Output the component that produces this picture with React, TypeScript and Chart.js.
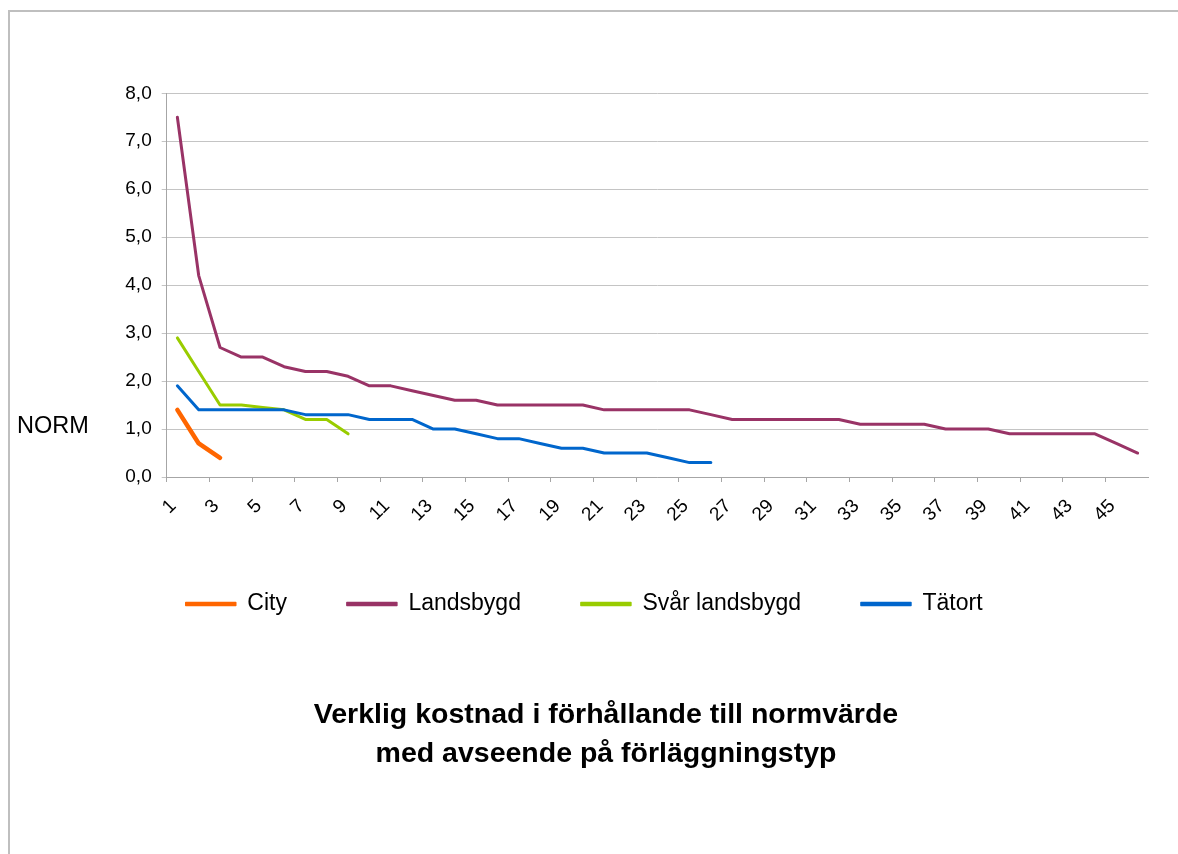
import React, { useEffect, useRef } from 'react';
import { Chart, registerables } from 'chart.js';

Chart.register(...registerables);

// ---- data ----
const categories = [
  '1', '2', '3', '4', '5', '6', '7', '8', '9', '10',
  '11', '12', '13', '14', '15', '16', '17', '18', '19', '20',
  '21', '22', '23', '24', '25', '26', '27', '28', '29', '30',
  '31', '32', '33', '34', '35', '36', '37', '38', '39', '40',
  '41', '42', '43', '44', '45', '46',
];

const seriesNames = ['City', 'Landsbygd', 'Svår landsbygd', 'Tätort'];

const city = [1.4, 0.7, 0.4];

const landsbygd = [
  7.5, 4.2, 2.7, 2.5, 2.5, 2.3, 2.2, 2.2, 2.1, 1.9,
  1.9, 1.8, 1.7, 1.6, 1.6, 1.5, 1.5, 1.5, 1.5, 1.5,
  1.4, 1.4, 1.4, 1.4, 1.4, 1.3, 1.2, 1.2, 1.2, 1.2,
  1.2, 1.2, 1.1, 1.1, 1.1, 1.1, 1.0, 1.0, 1.0, 0.9,
  0.9, 0.9, 0.9, 0.9, 0.7, 0.5,
];

const svarLandsbygd = [2.9, 2.2, 1.5, 1.5, 1.45, 1.4, 1.2, 1.2, 0.9];

const tatort = [
  1.9, 1.4, 1.4, 1.4, 1.4, 1.4, 1.3, 1.3, 1.3, 1.2,
  1.2, 1.2, 1.0, 1.0, 0.9, 0.8, 0.8, 0.7, 0.6, 0.6,
  0.5, 0.5, 0.5, 0.4, 0.3, 0.3,
];

const yMin = 0;
const yMax = 8;
const yStep = 1;

const yAxisTitle = 'NORM';
const chartTitle = ['Verklig kostnad i förhållande till normvärde', 'med avseende på förläggningstyp'];

const colors = ['#FF6600', '#993366', '#99CC00', '#0066CC'];
const widths = [4.5, 3, 3, 3];

const FONT = "'Liberation Sans', Arial, Helvetica, sans-serif";

export default function App() {
  const canvasRef = useRef<HTMLCanvasElement | null>(null);

  useEffect(() => {
    const canvas = canvasRef.current;
    if (!canvas) return;
    Chart.defaults.font.family = FONT;
    Chart.defaults.color = '#000';

    const values = [city, landsbygd, svarLandsbygd, tatort];
    const chart = new Chart(canvas, {
      type: 'line',
      data: {
        labels: categories,
        datasets: values.map((d, i) => ({
          label: seriesNames[i],
          data: d,
          borderColor: colors[i],
          backgroundColor: colors[i],
          borderWidth: widths[i],
          pointRadius: 0,
          pointHoverRadius: 0,
          tension: 0,
          fill: false,
          borderCapStyle: 'round' as const,
          borderJoinStyle: 'round' as const,
          order: i === 3 ? 0 : 1,
        })),
      },
      options: {
        animation: false,
        responsive: false,
        devicePixelRatio: 1,
        layout: {
          padding: { left: 20, right: 29.7, top: 93.3, bottom: 228.5 },
        },
        plugins: {
          title: { display: false },
          tooltip: { enabled: false },
          legend: {
            position: 'bottom',
            labels: {
              boxWidth: 50,
              boxHeight: 3,
              padding: 60,
              color: '#000',
              font: { size: 23, family: FONT },
              sort: (a: any, b: any) => a.datasetIndex - b.datasetIndex,
              generateLabels: (c: any) =>
                (Chart.defaults.plugins.legend.labels as any)
                  .generateLabels(c)
                  .map((l: any) => ({ ...l, lineWidth: 1.5 })),
            },
          },
        },
        scales: {
          x: {
            type: 'category',
            offset: true,
            grid: {
              offset: true,
              drawOnChartArea: false,
              drawTicks: true,
              tickLength: 5,
              color: (ctx: any) => (ctx.index % 2 === 0 ? '#a6a6a6' : 'rgba(0,0,0,0)'),
            },
            border: { color: '#a6a6a6', width: 1 },
            ticks: {
              autoSkip: false,
              minRotation: 45,
              maxRotation: 45,
              padding: 13,
              labelOffset: -4,
              color: '#000',
              font: { size: 19, family: FONT },
              callback: (_v: any, i: number) => (i % 2 === 0 ? categories[i] : ''),
            },
            afterFit: (s: any) => {
              s.height = 55.5;
            },
          },
          y: {
            min: yMin,
            max: yMax,
            grid: { color: '#c4c4c4', tickLength: 5, drawTicks: true },
            border: { color: '#a6a6a6', width: 1 },
            ticks: {
              stepSize: yStep,
              padding: 10,
              color: '#000',
              font: { size: 19, family: FONT },
              callback: (v: any) => Number(v).toFixed(1).replace('.', ','),
            },
            afterFit: (s: any) => {
              s.width = 146.7;
            },
          },
        },
      },
    } as any);
    return () => chart.destroy();
  }, []);

  return (
    <div style={{ position: 'absolute', left: 0, top: 0, width: 1178, height: 854, overflow: 'hidden', background: '#fff' }}>
      <div
        style={{
          position: 'absolute',
          left: 8,
          top: 10,
          width: 1300,
          height: 1000,
          borderLeft: '2px solid #bfbfbf',
          borderTop: '2px solid #bfbfbf',
        }}
      />
      <canvas ref={canvasRef} width={1178} height={854} style={{ position: 'absolute', left: 0, top: 0, width: 1178, height: 854 }} />
      <div
        style={{
          position: 'absolute',
          left: 17,
          top: 413,
          fontFamily: FONT,
          fontSize: 23.5,
          lineHeight: '24px',
          color: '#000',
          whiteSpace: 'nowrap',
        }}
      >
        {yAxisTitle}
      </div>
      <div
        style={{
          position: 'absolute',
          left: 256,
          top: 694,
          width: 700,
          textAlign: 'center',
          fontFamily: FONT,
          fontWeight: 'bold',
          fontSize: 28.5,
          lineHeight: '39px',
          color: '#000',
        }}
      >
        {chartTitle.map((t, i) => (
          <div key={i}>{t}</div>
        ))}
      </div>
    </div>
  );
}
